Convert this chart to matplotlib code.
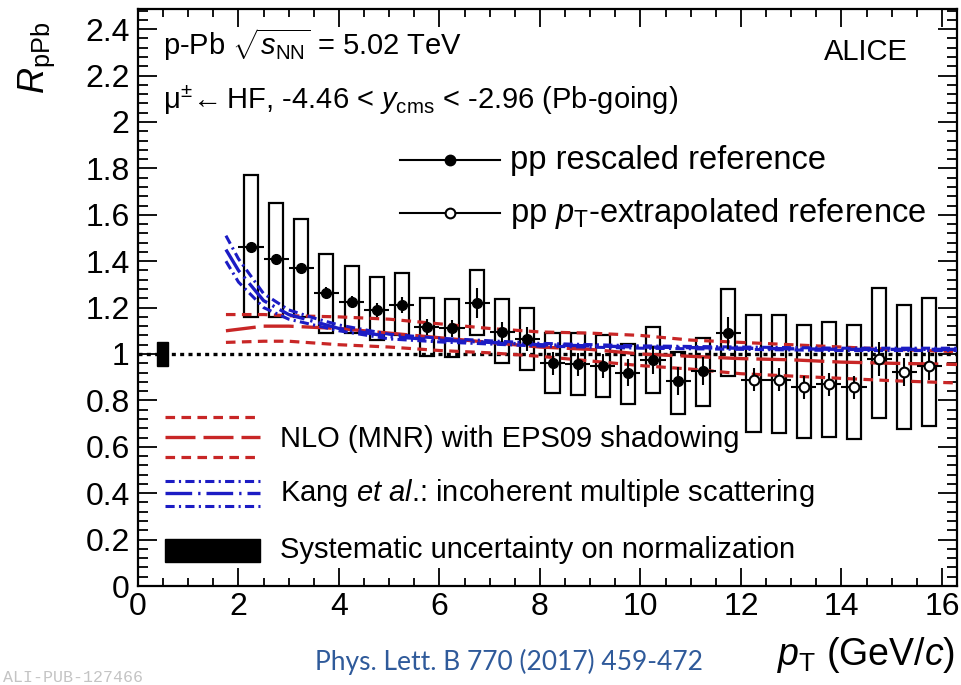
import matplotlib
matplotlib.use("Agg")
import matplotlib.pyplot as plt
import matplotlib.patches as pth
from matplotlib.ticker import MultipleLocator

plt.rcParams["font.family"] = ["Liberation Sans", "DejaVu Sans"]
plt.rcParams["mathtext.fontset"] = "custom"
plt.rcParams["mathtext.rm"] = "Liberation Sans"
plt.rcParams["mathtext.it"] = "Liberation Sans:italic"
plt.rcParams["mathtext.bf"] = "Liberation Sans:bold"

# R_pPb with pp rescaled reference
pt_rescaled = [2.25, 2.75, 3.25, 3.75, 4.25, 4.75, 5.25, 5.75, 6.25, 6.75,
               7.25, 7.75, 8.25, 8.75, 9.25, 9.75, 10.25, 10.75, 11.25, 11.75]
r_rescaled = [1.46, 1.41, 1.37, 1.265, 1.225, 1.19, 1.21, 1.115, 1.11, 1.22,
              1.095, 1.065, 0.96, 0.955, 0.948, 0.92, 0.975, 0.883, 0.925, 1.09]
stat_rescaled = [0.02, 0.02, 0.02, 0.025, 0.025, 0.03, 0.035, 0.035, 0.035, 0.065,
                 0.045, 0.05, 0.05, 0.05, 0.05, 0.06, 0.06, 0.06, 0.06, 0.07]
syst_lo_rescaled = [1.16, 1.16, 1.16, 1.09, 1.09, 1.06, 1.08, 0.99, 0.985, 1.08,
                    0.96, 0.93, 0.83, 0.825, 0.815, 0.785, 0.83, 0.74, 0.775, 0.905]
syst_hi_rescaled = [1.77, 1.65, 1.58, 1.43, 1.38, 1.33, 1.35, 1.24, 1.235, 1.36,
                    1.235, 1.20, 1.09, 1.09, 1.08, 1.045, 1.115, 1.01, 1.07, 1.28]

# R_pPb with pT-extrapolated pp reference
pt_extrap = [12.25, 12.75, 13.25, 13.75, 14.25, 14.75, 15.25, 15.75]
r_extrap = [0.89, 0.89, 0.857, 0.87, 0.857, 0.978, 0.922, 0.948]
stat_extrap = [0.05, 0.05, 0.05, 0.05, 0.05, 0.075, 0.06, 0.06]
syst_lo_extrap = [0.665, 0.66, 0.64, 0.643, 0.635, 0.725, 0.678, 0.69]
syst_hi_extrap = [1.17, 1.17, 1.125, 1.14, 1.125, 1.285, 1.21, 1.24]

# NLO (MNR) + EPS09
pt_nlo = [1.75, 2.5, 3.0, 4.0, 5.0, 6.0, 7.0, 8.0, 9.0, 10.0, 11.0, 12.0, 13.0, 14.0, 15.0, 16.3]
nlo_mid = [1.10, 1.12, 1.12, 1.11, 1.09, 1.07, 1.05, 1.03, 1.02, 1.00, 0.99, 0.98, 0.975, 0.965, 0.96, 0.955]
nlo_hi = [1.17, 1.17, 1.165, 1.16, 1.15, 1.13, 1.11, 1.095, 1.09, 1.08, 1.06, 1.05, 1.04, 1.03, 1.02, 1.01]
nlo_lo = [1.05, 1.055, 1.055, 1.04, 1.03, 1.015, 1.005, 0.99, 0.97, 0.95, 0.935, 0.915, 0.905, 0.895, 0.885, 0.875]

# Kang et al. incoherent multiple scattering
pt_kang = [1.75, 2.0, 2.5, 3.0, 3.5, 4.0, 5.0, 6.0, 7.0, 8.0, 10.0, 12.0, 14.0, 16.3]
kang_mid = [1.45, 1.36, 1.23, 1.17, 1.14, 1.11, 1.075, 1.06, 1.05, 1.04, 1.03, 1.025, 1.02, 1.02]
kang_hi = [1.51, 1.41, 1.26, 1.19, 1.155, 1.125, 1.085, 1.068, 1.057, 1.046, 1.035, 1.03, 1.025, 1.025]
kang_lo = [1.40, 1.31, 1.20, 1.15, 1.125, 1.10, 1.065, 1.052, 1.043, 1.034, 1.025, 1.02, 1.015, 1.015]

norm_pt, norm_width, norm_unc = 0.49, 0.22, 0.05

red = "#c82626"
blue = "#1c1cc4"
fs = 21

fig = plt.figure(figsize=(9.61, 6.85), dpi=100)
ax = fig.add_axes([138 / 961, 1 - 586 / 685, 819 / 961, 577 / 685])
ax.set_xlim(0, 16.3)
ax.set_ylim(0, 2.487)

ax.axhline(1, color="black", lw=2.4, ls=(0, (1.2, 1.3)), zorder=1)
ax.add_patch(pth.Rectangle((norm_pt - norm_width / 2, 1 - norm_unc), norm_width, 2 * norm_unc,
                           color="black", zorder=3))

# systematic boxes
hw = 0.14
for x, lo, hi in zip(pt_rescaled + pt_extrap, syst_lo_rescaled + syst_lo_extrap,
                     syst_hi_rescaled + syst_hi_extrap):
    ax.add_patch(pth.Rectangle((x - hw, lo), 2 * hw, hi - lo, fill=False,
                               ec="black", lw=1.6, zorder=2))

# model curves
short_dash = (0, (3.0, 2.0))
long_dash = (0, (9, 2.4))
dash_dot = (0, (3.0, 1.4, 0.7, 1.4))
long_dash_dot = (0, (8, 1.8, 0.7, 1.8))
ax.plot(pt_nlo, nlo_hi, color=red, lw=2.3, ls=short_dash, zorder=4)
ax.plot(pt_nlo, nlo_lo, color=red, lw=2.3, ls=short_dash, zorder=4)
ax.plot(pt_nlo, nlo_mid, color=red, lw=2.4, ls=long_dash, zorder=4)
ax.plot(pt_kang, kang_hi, color=blue, lw=2.2, ls=dash_dot, zorder=4)
ax.plot(pt_kang, kang_lo, color=blue, lw=2.2, ls=dash_dot, zorder=4)
ax.plot(pt_kang, kang_mid, color=blue, lw=2.4, ls=long_dash_dot, zorder=4)

# data points
ax.errorbar(pt_rescaled, r_rescaled, xerr=0.25, yerr=stat_rescaled, fmt="o", ms=7,
            color="black", elinewidth=1.5, capsize=0, zorder=5)
ax.errorbar(pt_extrap, r_extrap, xerr=0.25, yerr=stat_extrap, fmt="o", ms=7,
            color="black", mfc="white", mec="black", mew=1.5, elinewidth=1.5,
            capsize=0, zorder=5)

# ROOT-like frame and ticks
for s in ax.spines.values():
    s.set_linewidth(1.6)
ax.xaxis.set_major_locator(MultipleLocator(2))
ax.xaxis.set_minor_locator(MultipleLocator(0.5))
ax.yaxis.set_major_locator(MultipleLocator(0.2))
ax.yaxis.set_minor_locator(MultipleLocator(0.04))
ax.tick_params(which="both", direction="in", top=True, right=True, width=1.3, labelsize=23)
ax.tick_params(axis="x", which="major", length=13, pad=4)
ax.tick_params(axis="x", which="minor", length=6)
ax.tick_params(axis="y", which="major", length=14, pad=6)
ax.tick_params(axis="y", which="minor", length=7)
ax.set_yticks([0, 0.2, 0.4, 0.6, 0.8, 1, 1.2, 1.4, 1.6, 1.8, 2, 2.2, 2.4])
ax.set_yticklabels(["0", "0.2", "0.4", "0.6", "0.8", "1", "1.2", "1.4", "1.6", "1.8", "2", "2.2", "2.4"])

# header texts
ax.text(0.03, 0.938, r"p-Pb $\sqrt{s_{\rm NN}}$ = 5.02 TeV", transform=ax.transAxes,
        fontsize=fs, va="center")
ax.text(0.03, 0.842, r"μ$^{\pm}\!\leftarrow$HF, -4.46 < $y_{\rm cms}$ < -2.96 (Pb-going)",
        transform=ax.transAxes, fontsize=fs, va="center")
ax.text(0.889, 0.925, "ALICE", transform=ax.transAxes, fontsize=fs, ha="center", va="center")

# data legend
for yl, face in [(0.738, "black"), (0.646, "white")]:
    ax.plot([0.32, 0.442], [yl, yl], color="black", lw=1.5, transform=ax.transAxes, clip_on=False)
    ax.plot([0.381], [yl], "o", ms=7, mfc=face, mec="black", mew=1.5, transform=ax.transAxes)
ax.text(0.454, 0.738, "pp rescaled reference", transform=ax.transAxes, fontsize=23.5, va="center")
ax.text(0.454, 0.646, r"pp $p_{\rm T}$-extrapolated reference", transform=ax.transAxes,
        fontsize=23.5, va="center")

# model legend
lx = [0.033, 0.149]
ax.plot(lx, [0.293, 0.293], color=red, lw=2.3, ls=short_dash, transform=ax.transAxes)
ax.plot(lx, [0.258, 0.258], color=red, lw=2.4, ls=long_dash, transform=ax.transAxes)
ax.plot(lx, [0.224, 0.224], color=red, lw=2.3, ls=short_dash, transform=ax.transAxes)
ax.text(0.173, 0.255, "NLO (MNR) with EPS09 shadowing", transform=ax.transAxes,
        fontsize=fs, va="center")
ax.plot(lx, [0.182, 0.182], color=blue, lw=2.2, ls=dash_dot, transform=ax.transAxes)
ax.plot(lx, [0.161, 0.161], color=blue, lw=2.4, ls=long_dash_dot, transform=ax.transAxes)
ax.plot(lx, [0.139, 0.139], color=blue, lw=2.2, ls=dash_dot, transform=ax.transAxes)
ax.text(0.173, 0.161, r"Kang $et\ al$.: incoherent multiple scattering", transform=ax.transAxes,
        fontsize=fs, va="center")
ax.add_patch(pth.Rectangle((0.033, 0.042), 0.116, 0.04, color="black", transform=ax.transAxes))
ax.text(0.173, 0.062, "Systematic uncertainty on normalization", transform=ax.transAxes,
        fontsize=fs, va="center")

# axis titles
fig.text(0.038, 0.915, r"$R_{\rm pPb}$", rotation=90, fontsize=26, ha="center", va="center")
fig.text(0.994, 0.044, r"$p_{\rm T}$ (GeV/$c$)", fontsize=27, ha="right", va="center")

fig.text(0.003, 0.0, "ALI-PUB-127466", fontsize=12, color="#c4c4c4",
         family="Liberation Mono", va="bottom")
fig.text(0.53, 0.033, "Phys. Lett. B 770 (2017) 459-472", fontsize=19, color="#2f5a9a",
         family="Lato", ha="center", va="center")

fig.savefig("out.png", dpi=100)
